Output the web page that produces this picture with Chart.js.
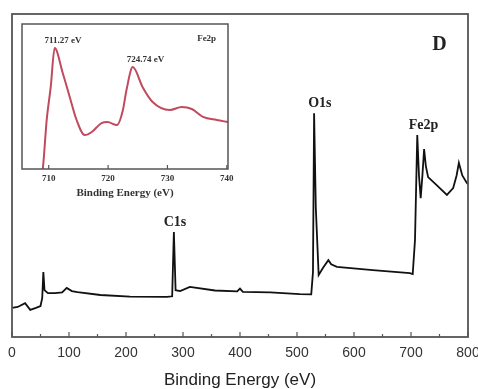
<!DOCTYPE html>
<html>
<head>
<meta charset="utf-8">
<script src="https://cdn.jsdelivr.net/npm/chart.js@4.4.1/dist/chart.umd.min.js"></script>
<style>
  html, body { margin: 0; padding: 0; background: #fff; }
  #wrap { position: relative; width: 478px; height: 389px; overflow: hidden; }
  #mainChart { position: absolute; left: 0; top: 0; }
  #insetChart { position: absolute; left: 14px; top: 16px; }
</style>
</head>
<body>
<div id="wrap">
  <canvas id="mainChart" width="478" height="389"></canvas>
  <canvas id="insetChart" width="222" height="186"></canvas>
</div>
<script>
// survey spectrum (binding energy in eV, intensity in arbitrary units 0-100)
const surveyEnergy = [0, 10, 23, 32, 42, 50, 53, 55, 57, 63, 75, 88, 96, 105, 115, 155, 207, 272, 281, 284, 287, 295, 312, 356, 395, 400, 405, 453, 505, 525, 528, 530, 533, 538, 546, 555, 560, 570, 633, 698, 703, 707, 711, 714, 717, 720, 723, 726, 730, 745, 763, 774, 780, 784, 790, 798, 800];
const surveyCounts = [9.0, 9.3, 10.5, 8.4, 9.0, 9.6, 12, 20.1, 14.5, 13.6, 13.6, 13.8, 15.2, 14.2, 13.9, 13.0, 12.5, 12.4, 12.6, 32.5, 14.5, 14.2, 15.5, 14.4, 14.1, 15.0, 14.0, 13.8, 13.3, 13.2, 20, 69.3, 40, 19.2, 21.5, 23.8, 22.5, 21.7, 20.7, 19.8, 19.5, 30, 62.5, 50, 43, 50, 58.2, 53, 49.5, 47, 44, 46.1, 50, 53.9, 50, 47.7, 47.3];
const surveyTicks = [0, 100, 200, 300, 400, 500, 600, 700, 800];
const peakNames = ["C1s", "O1s", "Fe2p"];
const peakEnergy = [286, 540, 722];
const peakTop = [32.5, 69.3, 62.5];

// Fe2p high resolution inset
const fe2pEnergy = [708.7, 709.0, 709.66, 710.34, 711.0, 712.36, 713.54, 714.7, 716.07, 717.25, 718.9, 719.9, 721.5, 722.5, 723.1, 724.16, 725.8, 727.5, 730.4, 732.4, 734.1, 736.0, 738.3, 740.2];
const fe2pCounts = [-5, 0, 33.8, 56.6, 83.4, 66.2, 49.7, 33.8, 23.4, 25.5, 31.7, 32.4, 30.3, 40.7, 54.5, 70.3, 56.6, 46.2, 40.7, 42.8, 41.4, 35.9, 33.8, 32.4];
const fe2pTicks = [710, 720, 730, 740];
const fe2pPeakNames = ["711.27 eV", "724.74 eV"];
const fe2pLabelEnergy = [712.4, 726.3];
const fe2pPeakTop = [83.4, 70.3];

const SANS = "'Liberation Sans', Arial, sans-serif";
const SERIF = "'Liberation Serif', 'Times New Roman', serif";

const toPoints = (xs, ys) => xs.map((x, i) => ({ x, y: ys[i] }));

// box around the plot area + tick marks pointing inward
const frameAndTicks = {
  id: "frameAndTicks",
  afterDraw(chart, args, opts) {
    const { ctx, chartArea: a, scales: { x } } = chart;
    ctx.save();
    ctx.strokeStyle = opts.color;
    ctx.lineWidth = opts.width;
    ctx.strokeRect(a.left, a.top, a.right - a.left, a.bottom - a.top);
    ctx.lineWidth = 1.2;
    x.ticks.forEach(t => {
      const px = x.getPixelForValue(t.value);
      const len = opts.major.includes(t.value) ? opts.majorLen : opts.minorLen;
      ctx.beginPath();
      ctx.moveTo(px, a.bottom);
      ctx.lineTo(px, a.bottom - len);
      ctx.stroke();
    });
    ctx.restore();
  }
};

// text labels anchored to data positions
const peakText = {
  id: "peakText",
  afterDatasetsDraw(chart, args, opts) {
    const { ctx, scales: { x, y } } = chart;
    ctx.save();
    ctx.fillStyle = opts.color;
    ctx.font = opts.font;
    ctx.textAlign = "center";
    ctx.textBaseline = "middle";
    opts.names.forEach((n, i) => {
      ctx.fillText(n, x.getPixelForValue(opts.xs[i]), y.getPixelForValue(opts.ys[i]) - opts.offset);
    });
    (opts.extra || []).forEach(e => {
      ctx.font = e.font;
      ctx.fillText(e.text, x.getPixelForValue(e.x), y.getPixelForValue(e.y));
    });
    ctx.restore();
  }
};

new Chart(document.getElementById("mainChart"), {
  type: "line",
  data: {
    datasets: [{
      data: toPoints(surveyEnergy, surveyCounts),
      borderColor: "#111",
      borderWidth: 1.8,
      pointRadius: 0,
      tension: 0
    }]
  },
  options: {
    responsive: false,
    animation: false,
    devicePixelRatio: 1,
    layout: { padding: { left: 12, right: 10, top: 14, bottom: 0 } },
    scales: {
      x: {
        type: "linear",
        min: 0,
        max: 800,
        grid: { display: false, drawTicks: false },
        border: { display: false },
        ticks: {
          stepSize: 50,
          autoSkip: false,
          maxRotation: 0,
          padding: 8,
          color: "#333",
          font: { family: SANS, size: 14 },
          callback: v => (surveyTicks.includes(v) ? v : "")
        },
        title: {
          display: true,
          text: "Binding Energy (eV)",
          color: "#222",
          font: { family: SANS, size: 17, lineHeight: 1.0 },
          padding: { top: 0, bottom: 0 }
        },
        afterFit: s => { s.height = 52; s.paddingLeft = 0; s.paddingRight = 0; }
      },
      y: { display: false, min: 0, max: 100 }
    },
    plugins: {
      legend: { display: false },
      tooltip: { enabled: false },
      frameAndTicks: { color: "#555", width: 1.8, major: surveyTicks, majorLen: 5, minorLen: 3 },
      peakText: {
        names: peakNames, xs: peakEnergy, ys: peakTop, offset: 10,
        color: "#222", font: `bold 14px ${SERIF}`,
        extra: [{ text: "D", x: 750, y: 90.4, font: `bold 20px ${SERIF}` }]
      }
    }
  },
  plugins: [frameAndTicks, peakText]
});

new Chart(document.getElementById("insetChart"), {
  type: "line",
  data: {
    datasets: [{
      data: toPoints(fe2pEnergy, fe2pCounts),
      borderColor: "#c04a5e",
      borderWidth: 2,
      pointRadius: 0,
      cubicInterpolationMode: "monotone"
    }]
  },
  options: {
    responsive: false,
    animation: false,
    devicePixelRatio: 1,
    layout: { padding: { left: 8, right: 8, top: 8, bottom: 0 } },
    scales: {
      x: {
        type: "linear",
        min: 705.5,
        max: 740.2,
        grid: { display: false, drawTicks: false },
        border: { display: false },
        afterBuildTicks: s => { s.ticks = fe2pTicks.map(v => ({ value: v })); },
        ticks: {
          autoSkip: false,
          maxRotation: 0,
          padding: 4,
          color: "#333",
          font: { family: SERIF, size: 9, weight: "bold" }
        },
        title: {
          display: true,
          text: "Binding Energy (eV)",
          color: "#333",
          font: { family: SERIF, size: 11, weight: "bold", lineHeight: 1.2 },
          padding: { top: 0, bottom: 2 }
        },
        afterFit: s => { s.height = 33; s.paddingLeft = 0; s.paddingRight = 0; }
      },
      y: { display: false, min: 0, max: 100 }
    },
    plugins: {
      legend: { display: false },
      tooltip: { enabled: false },
      frameAndTicks: { color: "#555", width: 1.5, major: fe2pTicks, majorLen: 4, minorLen: 4 },
      peakText: {
        names: fe2pPeakNames, xs: fe2pLabelEnergy, ys: fe2pPeakTop, offset: 7,
        color: "#333", font: `bold 9px ${SERIF}`,
        extra: [{ text: "Fe2p", x: 736.6, y: 89.7, font: `bold 9px ${SERIF}` }]
      }
    }
  },
  plugins: [frameAndTicks, peakText]
});
</script>
</body>
</html>
